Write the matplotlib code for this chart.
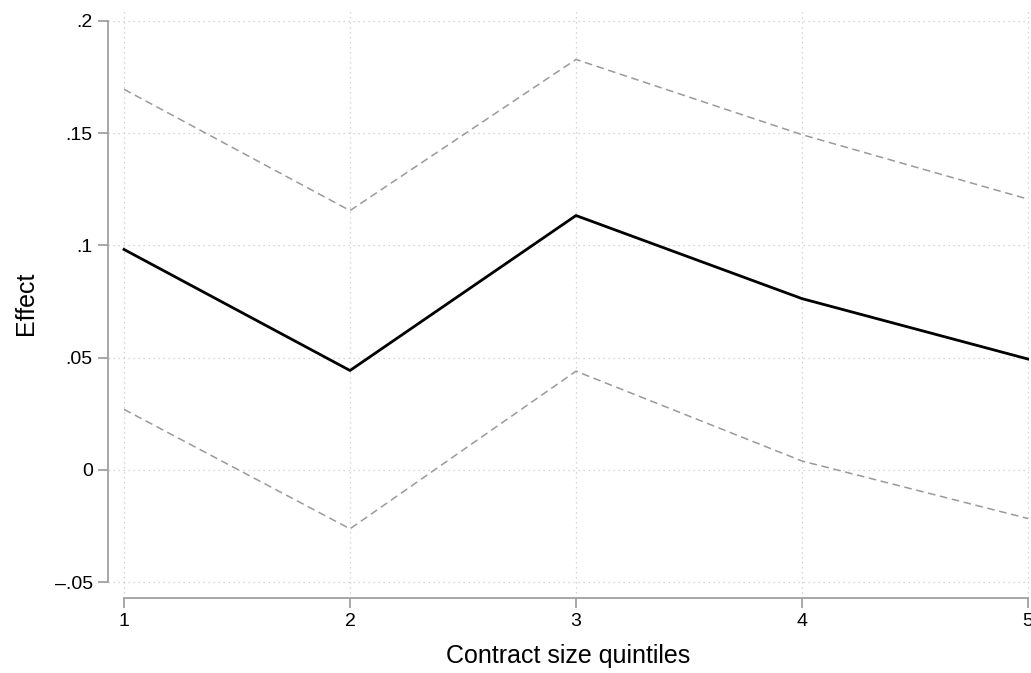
import numpy as np
import matplotlib.pyplot as plt

plt.rcParams['font.family'] = ['Liberation Sans', 'DejaVu Sans']

quintiles = [1, 2, 3, 4, 5]
effect = [0.0982, 0.0443, 0.1133, 0.0763, 0.0494]
upper = [0.1695, 0.1155, 0.1828, 0.1493, 0.1206]
lower = [0.0270, -0.0262, 0.0440, 0.0040, -0.0216]

yticks = [-0.05, 0, 0.05, 0.1, 0.15, 0.2]
ylabels = ['\u2013.05', '0', '.05', '.1', '.15', '.2']

W, H = 1031, 673
fig = plt.figure(figsize=(W / 100, H / 100), dpi=100)
ax = fig.add_axes([108 / W, (H - 598) / H, (1029 - 108) / W, (598 - 9) / H])

grid_kw = dict(color='#c8c8c8', linestyle=(0, (1, 3)), linewidth=0.9, zorder=0)
for y in yticks:
    ax.axhline(y, **grid_kw)
for x in quintiles:
    ax.axvline(x, **grid_kw)

ax.plot(quintiles, upper, color='#9a9a9a', linestyle=(0, (5, 3)), linewidth=1.1)
ax.plot(quintiles, lower, color='#9a9a9a', linestyle=(0, (5, 3)), linewidth=1.1)
ax.plot(quintiles, effect, color='black', linewidth=2.0)

ax.set_xlim(1 - 16 / 226, 5 + 1 / 226)
ax.set_ylim(-(598 - 470) / 2246, (470 - 9) / 2246)

ax.set_xticks(quintiles)
ax.set_xticklabels([str(q) for q in quintiles])
ax.set_yticks(yticks)
ax.set_yticklabels(ylabels)

for s in ['top', 'right']:
    ax.spines[s].set_visible(False)
ax.spines['left'].set_bounds(-0.05, 0.2)
ax.spines['bottom'].set_bounds(1, 5)
for s in ['left', 'bottom']:
    ax.spines[s].set_color('#a0a0a0')
    ax.spines[s].set_linewidth(1.3)

ax.tick_params(axis='both', colors='#a0a0a0', labelcolor='black', length=7,
               width=1.3, labelsize=14)
ax.tick_params(axis='y', pad=4)
ax.tick_params(axis='x', pad=4)

ax.set_xlabel('Contract size quintiles', fontsize=18, labelpad=10)
ax.set_ylabel('Effect', fontsize=18, labelpad=12)

fig.savefig('out.png', dpi=100)
